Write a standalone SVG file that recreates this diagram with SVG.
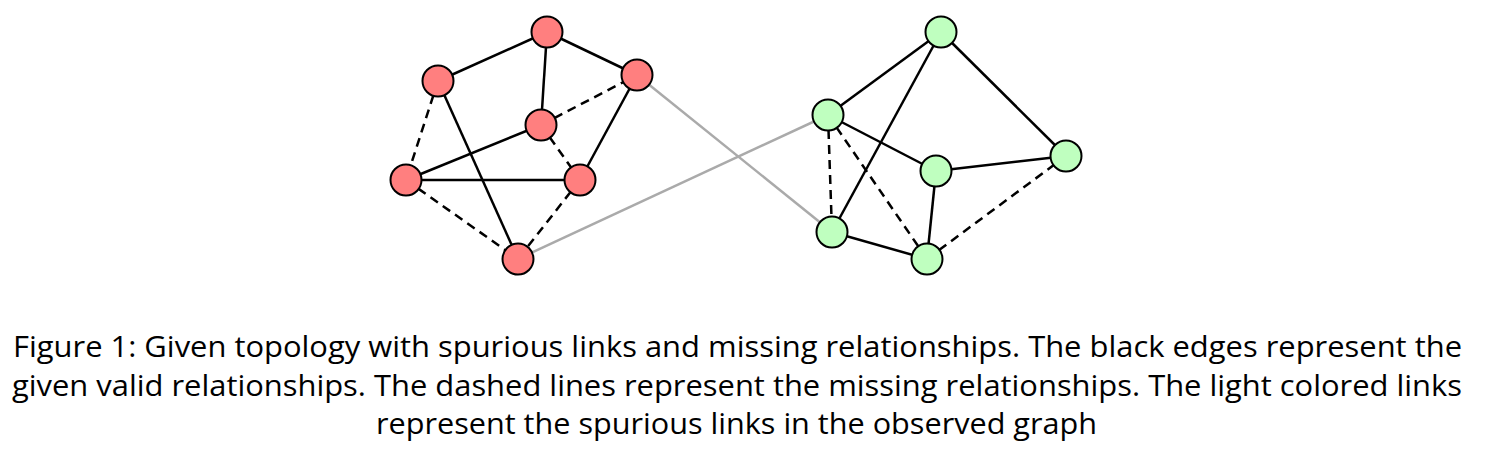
<svg xmlns="http://www.w3.org/2000/svg" width="1496" height="460" viewBox="0 0 1496 460">
<style>
.e{stroke:#000;stroke-width:2.5;fill:none}
.d{stroke:#000;stroke-width:2.5;fill:none;stroke-dasharray:9 6}
.s{stroke:#aaa;stroke-width:2.5;fill:none}
.r{fill:#ff7f7f;stroke:#000;stroke-width:2}
.g{fill:#bfffbf;stroke:#000;stroke-width:2}
.t{font-family:"Open Sans","Noto Sans",sans-serif;font-size:30px;fill:#000}
</style>
<rect width="1496" height="460" fill="#fff"/>
<g id="connectors">
<line class="s" x1="637" y1="75" x2="832" y2="232"/>
<line class="s" x1="518" y1="259" x2="828" y2="115"/>
<line class="e" x1="547" y1="32" x2="438" y2="81"/>
<line class="e" x1="547" y1="32" x2="637" y2="75"/>
<line class="e" x1="547" y1="32" x2="541" y2="125"/>
<line class="d" x1="438" y1="81" x2="406" y2="180"/>
<line class="e" x1="438" y1="81" x2="518" y2="259"/>
<line class="d" x1="541" y1="125" x2="637" y2="75"/>
<line class="e" x1="541" y1="125" x2="406" y2="180"/>
<line class="d" x1="541" y1="125" x2="580" y2="180"/>
<line class="e" x1="637" y1="75" x2="580" y2="180"/>
<line class="e" x1="406" y1="180" x2="580" y2="180"/>
<line class="d" x1="406" y1="180" x2="518" y2="259"/>
<line class="d" x1="580" y1="180" x2="518" y2="259"/>
<line class="e" x1="941" y1="32" x2="828" y2="115"/>
<line class="e" x1="941" y1="32" x2="832" y2="232"/>
<line class="e" x1="941" y1="32" x2="1066" y2="156"/>
<line class="e" x1="828" y1="115" x2="936" y2="171"/>
<line class="d" x1="828" y1="115" x2="832" y2="232"/>
<line class="d" x1="828" y1="115" x2="927" y2="259"/>
<line class="e" x1="936" y1="171" x2="1066" y2="156"/>
<line class="e" x1="936" y1="171" x2="927" y2="259"/>
<line class="e" x1="832" y1="232" x2="927" y2="259"/>
<line class="d" x1="927" y1="259" x2="1066" y2="156"/>
</g>
<g id="n1"><circle class="r" cx="547" cy="32" r="15.5"/></g>
<g id="n2"><circle class="r" cx="438" cy="81" r="15.5"/></g>
<g id="n3"><circle class="r" cx="637" cy="75" r="15.5"/></g>
<g id="n4"><circle class="r" cx="541" cy="125" r="15.5"/></g>
<g id="n5"><circle class="r" cx="406" cy="180" r="15.5"/></g>
<g id="n6"><circle class="r" cx="580" cy="180" r="15.5"/></g>
<g id="n7"><circle class="r" cx="518" cy="259" r="15.5"/></g>
<g id="m1"><circle class="g" cx="941" cy="32" r="15.5"/></g>
<g id="m2"><circle class="g" cx="828" cy="115" r="15.5"/></g>
<g id="m3"><circle class="g" cx="1066" cy="156" r="15.5"/></g>
<g id="m4"><circle class="g" cx="936" cy="171" r="15.5"/></g>
<g id="m5"><circle class="g" cx="832" cy="232" r="15.5"/></g>
<g id="m6"><circle class="g" cx="927" cy="259" r="15.5"/></g>
<g id="caption" class="t">
<text x="13" y="357" textLength="1449" lengthAdjust="spacingAndGlyphs">Figure 1: Given topology with spurious links and missing relationships. The black edges represent the</text>
<text x="12" y="396" textLength="1450" lengthAdjust="spacingAndGlyphs">given valid relationships. The dashed lines represent the missing relationships. The light colored links</text>
<text x="376" y="434" textLength="721" lengthAdjust="spacingAndGlyphs">represent the spurious links in the observed graph</text>
</g>
</svg>
